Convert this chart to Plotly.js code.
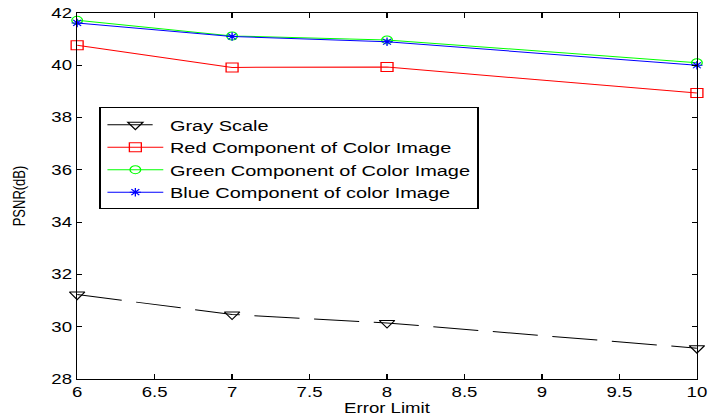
<!DOCTYPE html>
<html>
<head>
<meta charset="utf-8">
<script src="https://cdn.plot.ly/plotly-3.0.1.min.js"></script>
<style>
  html, body { margin: 0; padding: 0; background: #fff; overflow: hidden; }
  #chart { transform: scaleX(1.33); transform-origin: 0 0; }
</style>
</head>
<body>
<div id="chart"></div>
<script>
// Data
const errorLimit = [6, 7, 8, 10];
const grayScale = [31.23, 30.47, 30.14, 29.18];
const redComponent = [40.77, 39.92, 39.93, 38.94];
const greenComponent = [41.72, 41.12, 40.97, 40.10];
const blueComponent = [41.62, 41.10, 40.90, 40.00];
const seriesNames = [
  "Gray Scale",
  "Red Component of Color Image",
  "Green Component of Color Image",
  "Blue Component of color Image"
];
const xTicks = [6, 6.5, 7, 7.5, 8, 8.5, 9, 9.5, 10];
const yTicks = [28, 30, 32, 34, 36, 38, 40, 42];

const FONT = "Liberation Sans, Arial, Helvetica, sans-serif";

const traces = [
  {
    x: errorLimit, y: grayScale, name: seriesNames[0], mode: "lines+markers",
    line: { color: "#000000", width: 1, dash: "34px,11px" },
    marker: { symbol: "triangle-down-open", size: 10, color: "#000000", line: { width: 1 } },
    cliponaxis: false
  },
  {
    x: errorLimit, y: redComponent, name: seriesNames[1], mode: "lines+markers",
    line: { color: "#ff0000", width: 1 },
    marker: { symbol: "square-open", size: 9, color: "#ff0000", line: { width: 1 } },
    cliponaxis: false
  },
  {
    x: errorLimit, y: greenComponent, name: seriesNames[2], mode: "lines+markers",
    line: { color: "#00ff00", width: 1 },
    marker: { symbol: "circle-open", size: 8, color: "#00ff00", line: { width: 1 } },
    cliponaxis: false
  },
  {
    x: errorLimit, y: blueComponent, name: seriesNames[3], mode: "lines+markers",
    line: { color: "#0000ff", width: 1 },
    marker: { symbol: "asterisk-open", size: 7, color: "#0000ff", line: { width: 1, color: "#0000ff" } },
    cliponaxis: false
  }
];

const layout = {
  width: 542,
  height: 419,
  margin: { l: 57.6, r: 17.5, t: 13.3, b: 39.5, pad: 0 },
  paper_bgcolor: "#ffffff",
  plot_bgcolor: "#ffffff",
  font: { family: FONT, size: 14, color: "#000000" },
  showlegend: true,
  legend: {
    x: 0.036, y: 0.742, xanchor: "left", yanchor: "top",
    bgcolor: "#ffffff", bordercolor: "#000000", borderwidth: 1,
    font: { family: FONT, size: 15, color: "#000000" },
    itemwidth: 42,
    tracegroupgap: 0
  },
  xaxis: {
    range: [6, 10],
    tickmode: "array", tickvals: xTicks, ticktext: xTicks.map(String),
    ticks: "inside", ticklen: 5, tickwidth: 1, tickcolor: "#000000",
    showline: true, linecolor: "#000000", linewidth: 1, mirror: "ticks",
    showgrid: false, zeroline: false,
    tickfont: { family: FONT, size: 14, color: "#000000" },
    title: { text: "Error Limit", font: { family: FONT, size: 14, color: "#000000" }, standoff: 2 },
    automargin: false
  },
  yaxis: {
    range: [28, 42],
    tickmode: "array", tickvals: yTicks, ticktext: yTicks.map(String),
    ticks: "inside", ticklen: 4, tickwidth: 1, tickcolor: "#000000",
    showline: true, linecolor: "#000000", linewidth: 1, mirror: "ticks",
    showgrid: false, zeroline: false,
    tickfont: { family: FONT, size: 14, color: "#000000" },
    title: { text: "PSNR(dB)", font: { family: FONT, size: 13, color: "#000000" }, standoff: 16 },
    automargin: false
  }
};

Plotly.newPlot("chart", traces, layout, { staticPlot: true, displayModeBar: false });
</script>
</body>
</html>
